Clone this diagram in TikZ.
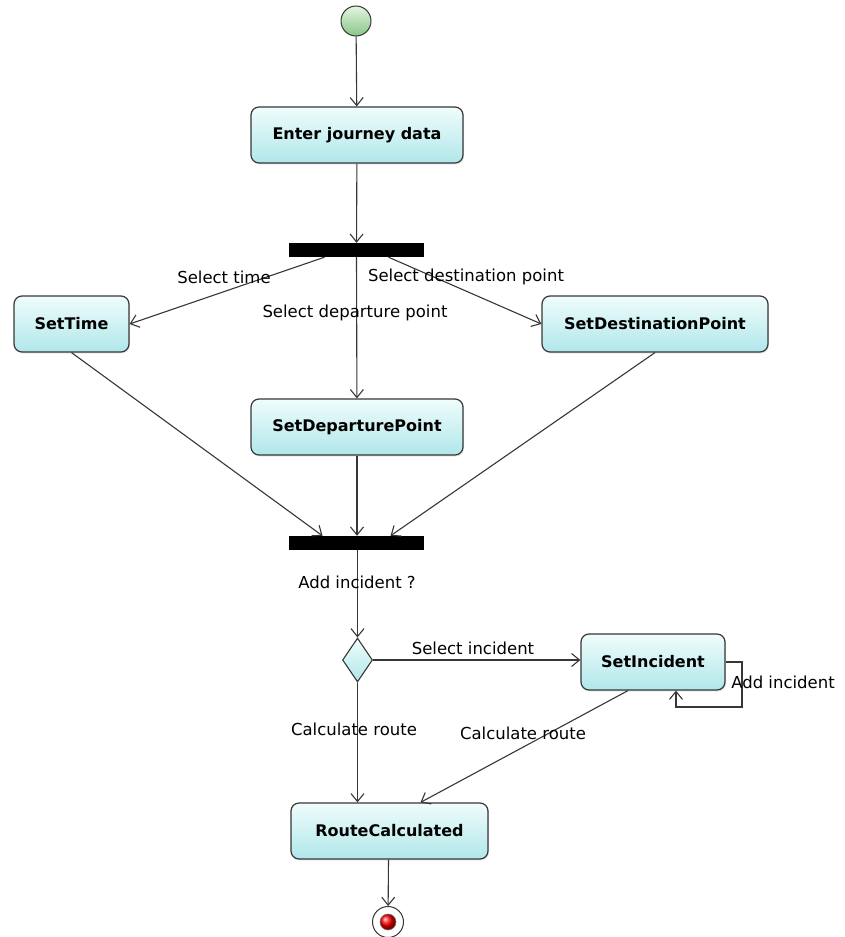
\documentclass[tikz,border=0pt]{standalone}
\usepackage{fontspec}
\setmainfont{DejaVu Sans}
\usetikzlibrary{arrows.meta,shapes.geometric,shadows}
\definecolor{boxtop}{RGB}{240,252,252}
\definecolor{boxbot}{RGB}{176,231,234}
\definecolor{edgegray}{RGB}{55,55,55}
\definecolor{greentop}{RGB}{228,245,225}
\definecolor{greenbot}{RGB}{135,198,135}
\begin{document}
\begin{tikzpicture}[x=1pt,y=-1pt,
  action/.style={draw=edgegray, line width=1.2pt, rounded corners=8pt,
    top color=boxtop, bottom color=boxbot, minimum height=56pt,
    font=\bfseries\fontsize{16}{19}\selectfont, inner sep=0pt,
    drop shadow={opacity=0.18, shadow xshift=1pt, shadow yshift=-1.5pt}},
  bar/.style={fill=black, minimum width=135pt, minimum height=14pt, inner sep=0pt},
  lbl/.style={font=\fontsize{16.5}{19}\selectfont, inner sep=0pt},
  arr/.style={draw=edgegray, line width=1.1pt, -{Straight Barb[length=8pt,width=13pt]}},
  ]
\useasboundingbox (0,0) rectangle (844,937);
\fill[white] (0,0) rectangle (844,937);

% initial and final states
\node[circle, draw=edgegray, line width=1pt, top color=greentop, bottom color=greenbot,
      minimum size=30pt, inner sep=0pt] (start) at (356,21) {};
\node[circle, draw=edgegray, line width=1pt, fill=white, minimum size=31pt, inner sep=0pt] (final) at (388,922) {};
\node[circle, ball color=red, draw=edgegray!70, line width=0.6pt, minimum size=16pt, inner sep=0pt] (finaldot) at (final) {};

% actions
\node[action, minimum width=212pt] (enter) at (357,135) {Enter journey data};
\node[action, minimum width=115pt] (settime) at (71.5,324) {SetTime};
\node[action, minimum width=226pt] (setdest) at (655,324) {SetDestinationPoint};
\node[action, minimum width=212pt] (setdep) at (357,427) {SetDeparturePoint};
\node[action, minimum width=144pt] (setinc) at (653,662) {SetIncident};
\node[action, minimum width=197pt] (route) at (389.5,831) {RouteCalculated};

% fork / join bars and decision
\node[bar] (fork) at (356.5,250) {};
\node[bar] (join) at (356.5,543) {};
\node[diamond, draw=edgegray, line width=1.1pt, top color=boxtop, bottom color=boxbot,
      minimum width=30pt, minimum height=44pt, inner sep=0pt] (dec) at (357.5,660) {};
\coordinate (loop) at (742,707);

% transitions
\draw[arr] (start) -- (enter);
\draw[arr] (enter) -- (fork);
\draw[arr] ([xshift=-32pt]fork.south) -- (settime.east);
\draw[arr] (fork.south) -- (setdep);
\draw[arr] ([xshift=32pt]fork.south) -- (setdest.west);
\draw[arr] (settime.south) -- ([xshift=-34pt]join.north);
\draw[arr] (setdep) -- (setdep.south |- join.north);
\draw[arr] (setdest.south) -- ([xshift=34pt]join.north);
\draw[arr] (join.south -| dec.north) -- (dec.north);
\draw[arr] (dec.east) -- (dec.east -| setinc.west);
\draw[arr] (dec.south) -- (dec.south |- route.north);
\draw[arr] ([xshift=-25pt]setinc.south) -- ([xshift=31pt]route.north);
\draw[arr] (setinc.east) -| (loop) -| ([xshift=23pt]setinc.south);
\draw[arr] ([xshift=-1pt]route.south) -- (final);

% guards
\node[lbl] (lsel1) at (224,277) {Select time};
\node[lbl] (lsel2) at (466,277) {Select destination point};
\node[lbl] (lsel3) at (355,313) {Select departure point};
\node[lbl] (ladd) at (357,582) {Add incident ?};
\node[lbl] (lselinc) at (473,648) {Select incident};
\node[lbl] (lcalc1) at (354,729) {Calculate route};
\node[lbl] (lcalc2) at (523,733) {Calculate route};
\node[lbl] (laddinc) at (783,682) {Add incident};
\end{tikzpicture}
\end{document}
